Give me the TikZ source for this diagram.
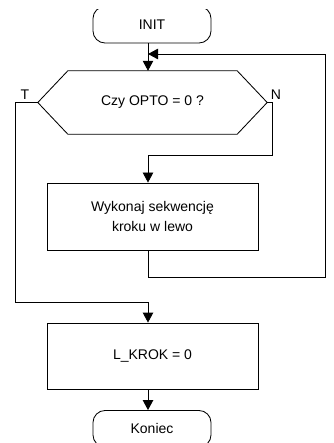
\documentclass[tikz,border=0pt]{standalone}
\usepackage{fontspec}
\setmainfont{Liberation Sans}
\usetikzlibrary{arrows.meta,calc}

\tikzset{
  line/.style={draw=black, line width=0.85pt},
  arr/.style={line, -{Triangle[length=10pt,width=10.5pt]}},
  terminal/.style={line, rounded corners=12pt, minimum width=118pt, minimum height=36.5pt, inner sep=0pt},
  procbox/.style={line, minimum width=211pt, inner sep=0pt, align=center},
  label/.style={inner sep=0pt}
}

\begin{document}
\begin{tikzpicture}[x=1pt, y=-1pt, font=\fontsize{14}{20}\selectfont]
  \useasboundingbox (0,0) rectangle (333,443);

  % column of the main flow line
  \coordinate (spine) at (148,0);

  \begin{scope}
    \clip (0,10) rectangle (333,443);
    \node[terminal] (init) at (152,24.75) {INIT};
    \node[terminal] (end) at (152,428.75) {Koniec};
  \end{scope}

  % decision (hexagon)
  \node[inner sep=0pt, minimum width=229pt, minimum height=63pt] (dec) at (152.5,102.5) {Czy OPTO = 0 ?};
  \draw[line] (dec.west) -- ($(dec.north west)+(30,0)$) -- ($(dec.north east)+(-30,0)$)
    -- (dec.east) -- ($(dec.south east)+(-30,0)$) -- ($(dec.south west)+(30,0)$) -- cycle;

  % process boxes
  \node[procbox, minimum height=67pt] (step) at (152.5,216.5) {Wykonaj sekwencję\\kroku w lewo};
  \node[procbox, minimum height=66pt] (zero) at (152.5,356) {L\_KROK = 0};

  % branch labels
  \node[label] (tlab) at (25,95) {T};
  \node[label] (nlab) at (276,95) {N};

  % routing points
  \coordinate (tcorner) at (15,302);
  \coordinate (ncorner) at (272,155);
  \coordinate (loopcorner) at (325,277);
  \coordinate (loopin) at (148,54);

  % connectors
  \draw[arr] (init.south -| spine) -- (dec.north -| spine);
  \draw[arr] (dec.west) -| (tcorner) -| (zero.north -| spine);
  \draw[arr] (dec.east) -| (ncorner) -| (step.north -| spine);
  \draw[arr] (step.south -| spine) |- (loopcorner) |- (loopin);
  \draw[arr] (zero.south -| spine) -- (end.north -| spine);
\end{tikzpicture}
\end{document}
